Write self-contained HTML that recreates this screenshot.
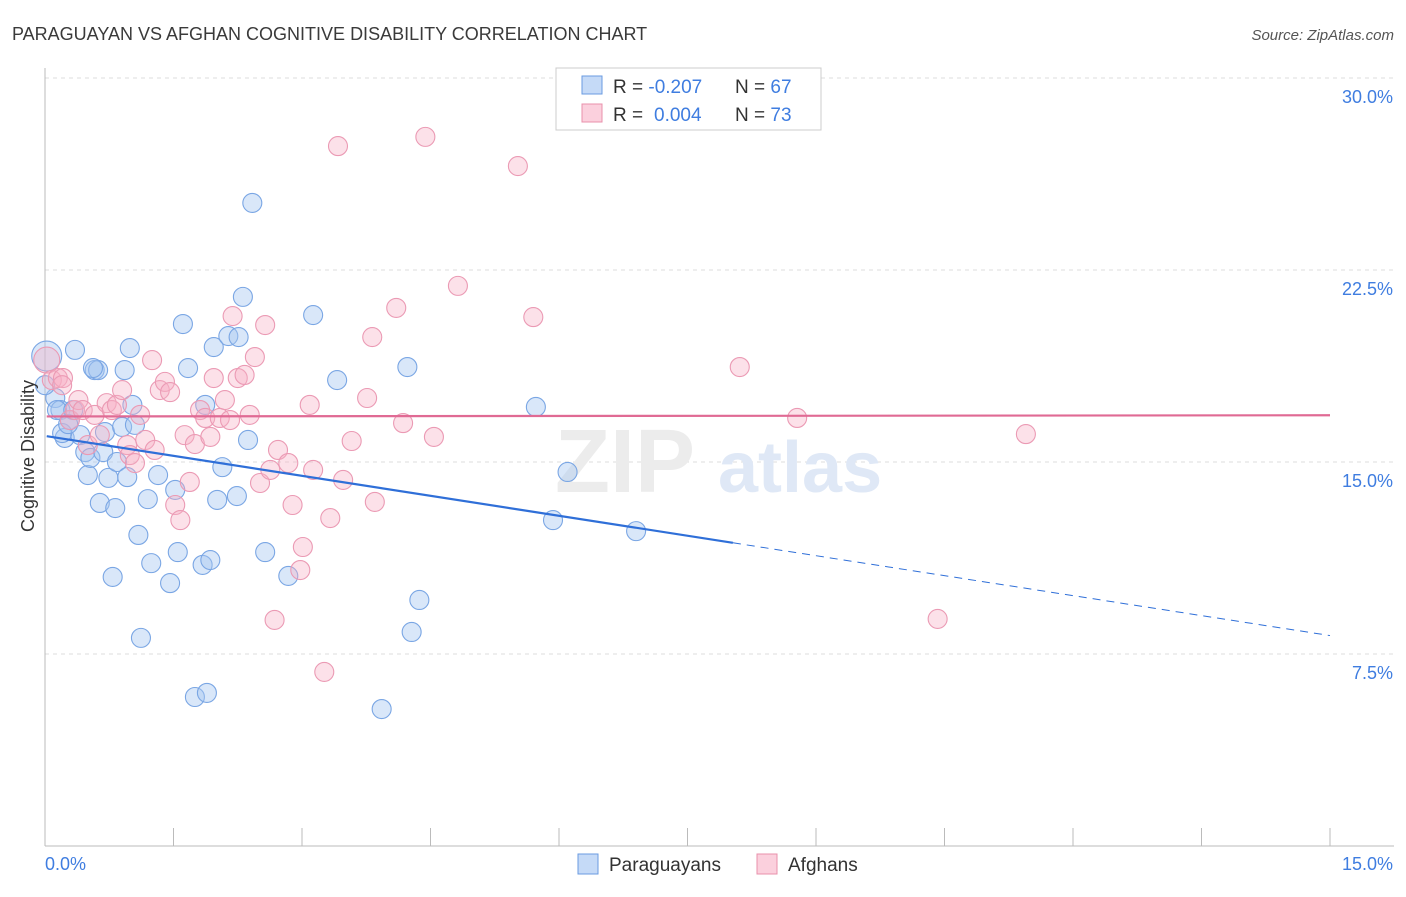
<!DOCTYPE html>
<html><head><meta charset="utf-8"><style>
body{margin:0;background:#fff;font-family:"Liberation Sans",sans-serif;}
svg text{font-family:"Liberation Sans",sans-serif;}
</style></head><body>
<svg id="chart" width="1406" height="892" xmlns="http://www.w3.org/2000/svg">
<text x="12" y="40" font-size="18" fill="#3a3a3a">PARAGUAYAN VS AFGHAN COGNITIVE DISABILITY CORRELATION CHART</text>
<text x="1394" y="40" font-size="15" fill="#555" text-anchor="end" font-style="italic">Source: ZipAtlas.com</text>
<g id="grid"></g>
<g>
<text x="555" y="492" font-size="90" fill="#ececec" font-family="Liberation Serif" font-weight="bold">ZIP</text>
<text x="718" y="492" font-size="72" fill="#dfe8f6" font-weight="bold">atlas</text>
</g>
<g id="axes"></g>
<g id="pts"></g>
<g id="trend"></g>
<text transform="translate(34,456) rotate(-90)" font-size="18" fill="#333" text-anchor="middle">Cognitive Disability</text>
<g>
<rect x="556" y="68" width="265" height="62" fill="#fff" stroke="#ccc"/>
<rect x="582" y="76" width="20" height="18" fill="#c5daf7" stroke="#6a9be0"/>
<rect x="582" y="104" width="20" height="18" fill="#fbd0dd" stroke="#e890ab"/>
<text x="613" y="93" font-size="19" fill="#333">R = <tspan fill="#3f7de0">-0.207</tspan><tspan x="735">N = </tspan><tspan fill="#3f7de0">67</tspan></text>
<text x="613" y="121" font-size="19" fill="#333">R = <tspan fill="#3f7de0" x="654">0.004</tspan><tspan x="735">N = </tspan><tspan fill="#3f7de0">73</tspan></text>
</g>
<g>
<rect x="578" y="854" width="20" height="20" fill="#c5daf7" stroke="#6a9be0"/>
<text x="609" y="871" font-size="19" fill="#333">Paraguayans</text>
<rect x="757" y="854" width="20" height="20" fill="#fbd0dd" stroke="#e890ab"/>
<text x="788" y="871" font-size="19" fill="#333">Afghans</text>
</g>
</svg>
<script>
const yTicks=[7.5,15,22.5,30];
const yTickLabels=["7.5%","15.0%","22.5%","30.0%"];
const xTickLabels=["0.0%","15.0%"];
const blueX=[0.02,0.12,0.18,0.23,0.29,0.35,0.41,0.47,0.50,0.53,0.58,0.62,0.64,0.68,0.70,0.74,0.79,0.82,0.84,0.90,0.93,0.96,0.99,1.02,1.05,1.09,1.12,1.20,1.24,1.32,1.46,1.52,1.55,1.61,1.67,1.75,1.84,1.87,1.89,1.93,1.97,2.01,2.07,2.14,2.24,2.26,2.31,2.37,2.42,2.57,2.84,3.13,3.41,3.93,4.23,4.28,4.37,5.73,5.93,6.10,6.90,0.14,0.20,0.33,0.27,0.56,0.0];
const blueY=[19.14,17.5,17.03,15.94,16.64,19.38,16.05,15.39,14.49,15.16,18.59,18.59,13.40,15.39,16.17,14.38,10.51,13.20,15.0,16.37,18.59,14.41,19.45,17.23,16.45,12.15,8.13,13.55,11.05,14.49,10.27,13.91,11.48,20.39,18.67,5.82,10.98,17.23,5.98,11.17,19.49,13.52,14.80,19.92,13.67,19.88,21.45,15.86,25.12,11.48,10.55,20.74,18.20,5.35,18.71,8.36,9.61,17.15,12.73,14.61,12.30,17.03,16.13,17.03,16.48,18.67,18.0];
const pinkX=[0.02,0.08,0.15,0.21,0.29,0.35,0.39,0.44,0.50,0.58,0.64,0.72,0.78,0.84,0.90,0.96,0.99,1.05,1.11,1.17,1.25,1.28,1.34,1.40,1.46,1.52,1.58,1.63,1.69,1.75,1.81,1.87,1.93,1.97,2.04,2.10,2.16,2.19,2.25,2.33,2.39,2.45,2.51,2.57,2.63,2.72,2.84,2.89,2.98,3.01,3.09,3.13,3.33,3.42,3.48,3.58,3.76,3.82,3.85,4.10,4.18,4.44,4.54,4.82,5.52,5.70,8.11,8.78,10.42,11.45,2.68,3.26,0.20];
const pinkY=[18.98,18.20,18.28,18.28,16.64,17.03,17.42,17.03,15.66,16.84,16.05,17.30,17.03,17.23,17.81,15.66,15.27,14.96,16.84,15.86,18.98,15.47,17.81,18.13,17.73,13.32,12.73,16.05,14.22,15.70,17.03,16.72,15.98,18.28,16.72,17.42,16.64,20.70,18.28,18.40,16.84,19.10,14.18,20.35,14.69,15.47,14.96,13.32,10.78,11.68,17.23,14.69,12.81,27.34,14.30,15.82,17.50,19.88,13.44,21.02,16.52,27.70,15.98,21.88,26.56,20.66,18.71,16.72,8.87,16.09,8.83,6.80,18.0];
const blueTrend=[16.02,-0.52];
const pinkTrend=[16.78,0.003];
const blueSolidEnd=8.03;

const NS="http://www.w3.org/2000/svg";
const X0=45,X1=1330,YB=846,PXPY=25.6;
const sx=v=>X0+(v/15)*(X1-X0);
const sy=v=>YB-v*PXPY;
function mk(tag,attrs,parent){const e=document.createElementNS(NS,tag);for(const k in attrs)e.setAttribute(k,attrs[k]);parent.appendChild(e);return e;}
const grid=document.getElementById('grid'),axes=document.getElementById('axes'),pts=document.getElementById('pts'),trend=document.getElementById('trend');
yTicks.forEach((t,i)=>{
  const l=mk('line',{x1:X0,x2:1394,y1:sy(t),y2:sy(t),stroke:'#ddd','stroke-dasharray':'4,4'},grid);
  
  
  const tx=mk('text',{x:1393,y:sy(t)+25,'font-size':18,fill:'#3f7de0','text-anchor':'end'},axes);
  tx.textContent=yTickLabels[i];
  
  
});
mk('line',{x1:X0,x2:X0,y1:68,y2:YB,stroke:'#bbb'},axes);
mk('line',{x1:X0,x2:1394,y1:YB,y2:YB,stroke:'#bbb'},axes);
for(let i=0;i<=10;i++){
  const v=i*1.5;
  const l=mk('line',{x1:sx(v),x2:sx(v),y1:YB,y2:YB-18,stroke:'#bbb'},axes);
  
  
}
const xl0=mk('text',{x:45,y:870,'font-size':18,fill:'#3f7de0'},axes);xl0.textContent=xTickLabels[0];


const xl1=mk('text',{x:1393,y:870,'font-size':18,fill:'#3f7de0','text-anchor':'end'},axes);xl1.textContent=xTickLabels[1];



blueX.forEach((v,i)=>{
  const c=mk('circle',{cx:sx(v),cy:sy(blueY[i]),r:i===0?15:9.5,fill:'rgba(165,198,240,0.42)',stroke:'#7aa6e4','stroke-width':1.1},pts);
  
  
});
pinkX.forEach((v,i)=>{
  const c=mk('circle',{cx:sx(v),cy:sy(pinkY[i]),r:i===0?13:9.5,fill:'rgba(246,175,198,0.38)',stroke:'#eb9ab4','stroke-width':1.1},pts);
  
  
});
const bt=x=>blueTrend[0]+blueTrend[1]*x, pt=x=>pinkTrend[0]+pinkTrend[1]*x;
const b1=mk('line',{x1:sx(0.02),y1:sy(bt(0.02)),x2:sx(blueSolidEnd),y2:sy(bt(blueSolidEnd)),stroke:'#2f6fd8','stroke-width':2.2},trend);


const b2=mk('line',{x1:sx(blueSolidEnd),y1:sy(bt(blueSolidEnd)),x2:sx(15),y2:sy(bt(15)),stroke:'#2f6fd8','stroke-width':1,'stroke-dasharray':'8,6'},trend);


const p1=mk('line',{x1:sx(0.02),y1:sy(pt(0.02)),x2:sx(15),y2:sy(pt(15)),stroke:'#e06a94','stroke-width':2.2},trend);


</script>
</body></html>
